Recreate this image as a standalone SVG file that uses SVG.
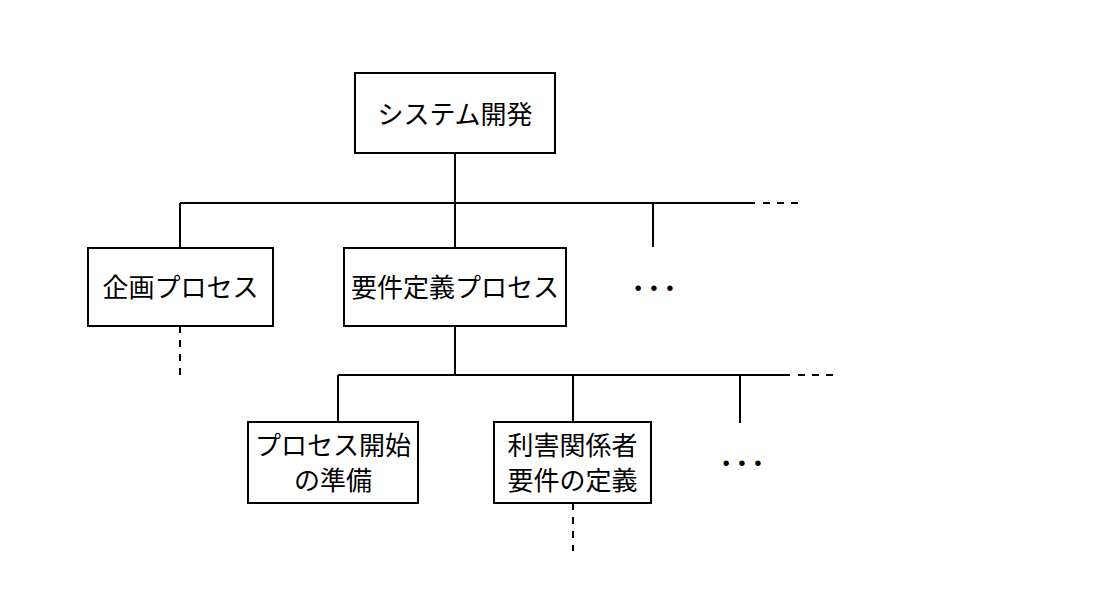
<svg xmlns="http://www.w3.org/2000/svg" width="1100" height="600" viewBox="0 0 1100 600">
<style>
.box{fill:#fff;stroke:#000;stroke-width:2}
.ln{stroke:#000;stroke-width:2;fill:none}
.ds{stroke:#000;stroke-width:2;fill:none;stroke-dasharray:7 7}
text{font-family:"Liberation Serif","Noto Sans CJK JP",serif;font-size:26px;fill:#000;text-anchor:middle}
.dot{font-size:34px;font-weight:bold;letter-spacing:-2px}
</style>
<rect width="1100" height="600" fill="#fff"/>
<g id="connectors">
<path class="ln" d="M455 153V203M180 203H755M180 203V248M455 203V248M653 203V247"/>
<path class="ds" d="M763 203H800"/>
<path class="ds" d="M180 326V376"/>
<path class="ln" d="M455 326V375M338 375H790M338 375V422M573 375V422M740 375V423"/>
<path class="ds" d="M798 375H835"/>
<path class="ds" d="M573 503V551"/>
</g>
<g id="n1"><rect class="box" x="355" y="73" width="200" height="80"/><text x="455" y="124">システム開発</text></g>
<g id="n2"><rect class="box" x="88" y="248" width="185" height="78"/><text x="180.5" y="297">企画プロセス</text></g>
<g id="n3"><rect class="box" x="344" y="248" width="222" height="78"/><text x="455" y="297">要件定義プロセス</text></g>
<g id="n4"><text class="dot" x="653" y="299">· · ·</text></g>
<g id="n5"><rect class="box" x="248" y="422" width="170" height="81"/><text x="333" y="455">プロセス開始</text><text x="333" y="490">の準備</text></g>
<g id="n6"><rect class="box" x="494" y="422" width="157" height="81"/><text x="572.5" y="455">利害関係者</text><text x="572.5" y="490">要件の定義</text></g>
<g id="n7"><text class="dot" x="741" y="474">· · ·</text></g>
</svg>
